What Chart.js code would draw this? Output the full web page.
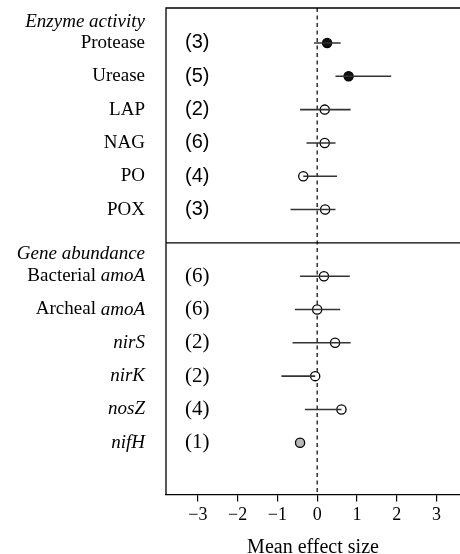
<!DOCTYPE html>
<html>
<head>
<meta charset="utf-8">
<script src="https://cdn.jsdelivr.net/npm/chart.js@4.4.1/dist/chart.umd.min.js"></script>
<style>
  html, body { margin: 0; padding: 0; background: #fff; }
  canvas { display: block; }
</style>
</head>
<body>
<canvas id="forest" width="460" height="554"></canvas>
<script>
// ===== DATA =====
const enzymeNames = ['Protease', 'Urease', 'LAP', 'NAG', 'PO', 'POX'];
const enzymeCounts = ['(3)', '(5)', '(2)', '(6)', '(4)', '(3)'];
const enzymeMeans = [0.25, 0.79, 0.19, 0.19, -0.35, 0.2];
const enzymeLow = [-0.08, 0.46, -0.43, -0.27, -0.35, -0.67];
const enzymeHigh = [0.59, 1.86, 0.84, 0.46, 0.5, 0.46];
const enzymeFill = ['#111', '#111', '#fff', '#fff', '#fff', '#fff'];

// gene labels: [roman part, italic part]
const geneNames = [['Bacterial ', 'amoA'], ['Archeal ', 'amoA'], ['', 'nirS'], ['', 'nirK'], ['', 'nosZ'], ['', 'nifH']];
const geneCounts = ['(6)', '(6)', '(2)', '(2)', '(4)', '(1)'];
const geneMeans = [0.17, 0.0, 0.45, -0.05, 0.61, -0.43];
const geneLow = [-0.43, -0.56, -0.62, -0.9, -0.31, null];
const geneHigh = [0.82, 0.58, 0.84, -0.05, 0.61, null];
const geneFill = ['#fff', '#fff', '#fff', '#fff', '#fff', '#b8b8b8'];

const enzymeRows = [1, 2, 3, 4, 5, 6];
const geneRows = [8, 9, 10, 11, 12, 13];
const headerRows = [0.36, 7.34];
const headers = ['Enzyme activity', 'Gene abundance'];
const separatorRow = 7;
const xTicks = [-3, -2, -1, 0, 1, 2, 3];

// ===== DATASETS =====
const serif = "'Liberation Serif', 'DejaVu Serif', serif";
const sans = "'Liberation Sans', Arial, sans-serif";

const allMeans = enzymeMeans.concat(geneMeans);
const allLow = enzymeLow.concat(geneLow);
const allHigh = enzymeHigh.concat(geneHigh);
const allRows = enzymeRows.concat(geneRows);
const allFill = enzymeFill.concat(geneFill);

const ciSets = allRows.map((r, i) => allLow[i] === null ? null : ({
  type: 'scatter', showLine: true,
  data: [{ x: allLow[i], y: r }, { x: allHigh[i], y: r }],
  borderColor: '#333', borderWidth: 1.6, pointRadius: 0, pointHoverRadius: 0
})).filter(Boolean);

const meanSet = {
  type: 'scatter',
  data: allRows.map((r, i) => ({ x: allMeans[i], y: r })),
  pointRadius: 4.6, pointBackgroundColor: allFill, pointBorderColor: '#000', pointBorderWidth: 1.3
};

// frame, zero line, separator, row labels
const forestDecor = {
  id: 'forestDecor',
  beforeDatasetsDraw(chart) {
    const { ctx, chartArea: a, scales: { x, y } } = chart;
    ctx.save();
    ctx.strokeStyle = '#000';
    ctx.lineWidth = 1.3;
    ctx.beginPath();
    ctx.moveTo(a.left, a.bottom); ctx.lineTo(a.left, a.top); ctx.lineTo(a.right, a.top);
    const sy = y.getPixelForValue(separatorRow);
    ctx.moveTo(a.left, sy); ctx.lineTo(a.right, sy);
    ctx.stroke();
    ctx.setLineDash([4, 3.5]);
    ctx.lineWidth = 1.2;
    const zx = x.getPixelForValue(0);
    ctx.beginPath(); ctx.moveTo(zx, a.top); ctx.lineTo(zx, a.bottom); ctx.stroke();
    ctx.restore();
  },
  afterDraw(chart) {
    const { ctx, scales: { y } } = chart;
    const right = 145, countX = 185;
    ctx.save();
    ctx.fillStyle = '#000';
    ctx.textBaseline = 'middle';
    headers.forEach((h, i) => {
      ctx.textAlign = 'right';
      ctx.font = 'italic 19px ' + serif;
      ctx.fillText(h, right, y.getPixelForValue(headerRows[i]));
    });
    enzymeNames.forEach((n, i) => {
      const py = y.getPixelForValue(enzymeRows[i]);
      ctx.textAlign = 'right';
      ctx.font = '19px ' + serif;
      ctx.fillText(n, right, py);
      ctx.textAlign = 'left';
      ctx.font = '20px ' + sans;
      ctx.fillText(enzymeCounts[i], countX, py);
    });
    geneNames.forEach((n, i) => {
      const py = y.getPixelForValue(geneRows[i]);
      ctx.textAlign = 'right';
      ctx.font = 'italic 19px ' + serif;
      ctx.fillText(n[1], right, py);
      const w = ctx.measureText(n[1]).width;
      ctx.font = '19px ' + serif;
      ctx.fillText(n[0], right - w, py);
      ctx.textAlign = 'left';
      ctx.font = '21px ' + serif;
      ctx.fillText(geneCounts[i], countX, py);
    });
    ctx.restore();
  }
};

new Chart(document.getElementById('forest'), {
  type: 'scatter',
  data: { datasets: [...ciSets, meanSet] },
  options: {
    responsive: false, animation: false,
    layout: { autoPadding: false, padding: { left: 166, top: 8, right: 0, bottom: -3 } },
    plugins: { legend: { display: false }, tooltip: { enabled: false } },
    scales: {
      x: {
        min: -3.8, max: 3.59,
        afterBuildTicks: s => { s.ticks = xTicks.map(v => ({ value: v })); },
        ticks: { color: '#000', font: { family: serif, size: 18 }, padding: 3, maxRotation: 0,
          callback: v => String(v).replace('-', '\u2212') },
        grid: { drawOnChartArea: false, color: '#000', tickLength: 7, lineWidth: 1.2 },
        border: { color: '#000', width: 1.3 },
        title: { display: true, text: 'Mean effect size', color: '#000', font: { family: serif, size: 20 }, padding: { top: 7, bottom: -3 } }
      },
      y: { display: false, reverse: true, min: -0.05, max: 14.55 }
    }
  },
  plugins: [forestDecor]
});
</script>
</body>
</html>
